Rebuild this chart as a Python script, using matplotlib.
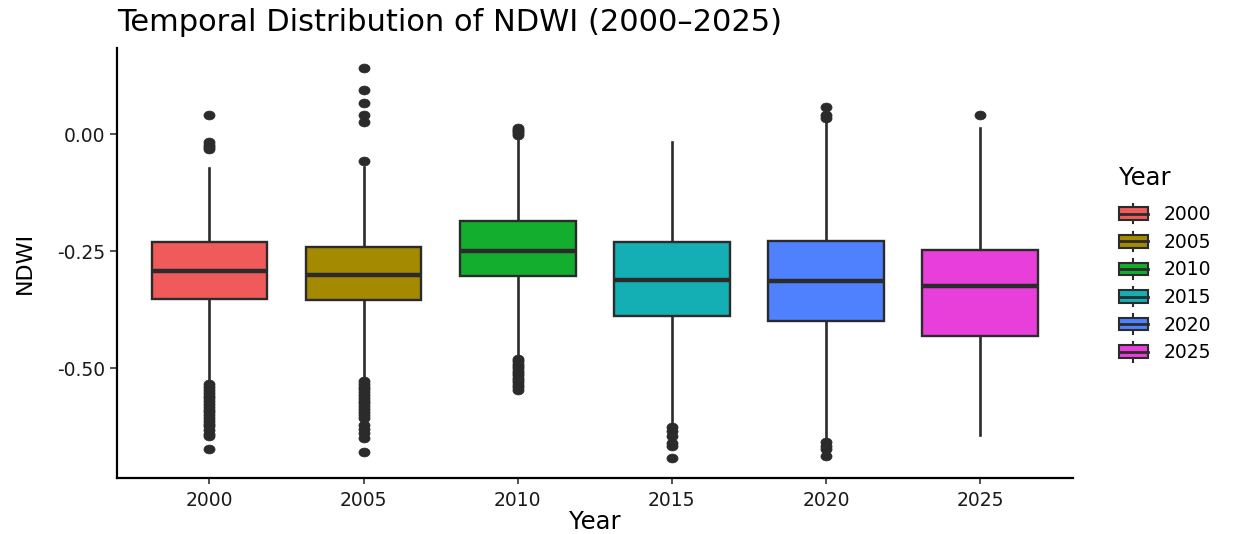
import matplotlib
matplotlib.use("Agg")
import matplotlib.pyplot as plt
from matplotlib.legend_handler import HandlerBase
from matplotlib.patches import Rectangle, Patch
from matplotlib.lines import Line2D
from matplotlib.path import Path

plt.rcParams['font.family'] = ['DejaVu Sans']

years = ["2000", "2005", "2010", "2015", "2020", "2025"]
colors = ["#F05A5A", "#A38A00", "#13AE2D", "#14AFB4", "#4F81FF", "#E83FDB"]

q1 = [-0.352, -0.355, -0.302, -0.388, -0.399, -0.430]
med = [-0.293, -0.301, -0.249, -0.312, -0.313, -0.325]
q3 = [-0.230, -0.240, -0.185, -0.231, -0.227, -0.248]
whis_lo = [-0.531, -0.525, -0.477, -0.623, -0.655, -0.642]
whis_hi = [-0.0725, -0.069, -0.0085, -0.0156, 0.0305, 0.014]

outliers = [
    [0.040, -0.017, -0.022, -0.027, -0.031,
     -0.534, -0.540, -0.546, -0.552, -0.558, -0.564, -0.570, -0.576, -0.582,
     -0.588, -0.594, -0.600, -0.606, -0.612, -0.618, -0.624, -0.632, -0.640,
     -0.645, -0.673],
    [0.142, 0.094, 0.0675, 0.040, 0.027, -0.058,
     -0.527, -0.533, -0.539, -0.545, -0.551, -0.557, -0.563, -0.569, -0.575,
     -0.581, -0.587, -0.593, -0.600, -0.605, -0.620, -0.630, -0.637, -0.648,
     -0.678],
    [0.013, 0.010, 0.006, 0.002, -0.001,
     -0.480, -0.485, -0.490, -0.495, -0.500, -0.505, -0.510, -0.515, -0.520,
     -0.525, -0.530, -0.535, -0.540, -0.546],
    [-0.626, -0.634, -0.644, -0.660, -0.666, -0.692],
    [0.058, 0.040, 0.035, -0.658, -0.666, -0.673, -0.687],
    [0.042],
]

edge = "#2b2b2b"

# slightly wide elliptical dot, like the reference's outlier points
_circ = Path.unit_circle()
ellipse_marker = Path(_circ.vertices * [1.0, 0.8], _circ.codes)

fig = plt.figure(figsize=(12.33, 5.34), dpi=100)
ax = fig.add_axes([0.0949, 0.105, 0.775, 0.805])

stats = []
for i, y in enumerate(years):
    stats.append(dict(label=y, q1=q1[i], med=med[i], q3=q3[i],
                      whislo=whis_lo[i], whishi=whis_hi[i], fliers=outliers[i]))

positions = list(range(1, len(years) + 1))
bp = ax.bxp(stats, positions=positions, widths=0.75, patch_artist=True,
            showcaps=False,
            boxprops=dict(edgecolor=edge, linewidth=1.7),
            whiskerprops=dict(color=edge, linewidth=1.9),
            medianprops=dict(color=edge, linewidth=3.2, solid_capstyle='butt'),
            flierprops=dict(marker=ellipse_marker, markerfacecolor=edge,
                            markeredgecolor=edge, markeredgewidth=0.5,
                            markersize=8.0, linestyle='none'))
for patch, c in zip(bp['boxes'], colors):
    patch.set_facecolor(c)
for w in bp['whiskers']:
    w.set_zorder(1)

ax.set_xlim(0.4, len(years) + 0.6)
ax.set_ylim(-0.734, 0.184)
ax.set_yticks([0.0, -0.25, -0.50])
ax.set_yticklabels(["0.00", "-0.25", "-0.50"])
ax.set_xticks(positions)
ax.set_xticklabels(years)
for s in ['top', 'right']:
    ax.spines[s].set_visible(False)
for s in ['left', 'bottom']:
    ax.spines[s].set_linewidth(1.6)
    ax.spines[s].set_color('black')
ax.tick_params(axis='both', direction='out', width=1.2, color='#333333',
               labelsize=13.5, labelcolor='#1a1a1a')
ax.tick_params(axis='x', length=4, pad=5.3)
ax.tick_params(axis='y', length=5, pad=3.5)
ax.set_xlabel("Year", fontsize=17.5, labelpad=0)
ax.set_ylabel("NDWI", fontsize=16, va='center')
ax.yaxis.set_label_coords(-0.096, 0.5)
ax.set_title("Temporal Distribution of NDWI (2000\u20132025)", fontsize=22,
             loc='left', x=0.0, pad=12)


class BoxKeyHandler(HandlerBase):
    def create_artists(self, legend, orig_handle, xdescent, ydescent, width,
                       height, fontsize, trans):
        cx = -xdescent + width / 2
        cy = -ydescent + height / 2
        bw = width
        bh = height * 0.75
        y0 = cy - bh / 2
        rect = Rectangle((cx - bw / 2, y0), bw, bh,
                         facecolor=orig_handle.get_facecolor(),
                         edgecolor=edge, linewidth=1.5, transform=trans)
        mline = Line2D([cx - bw / 2, cx + bw / 2], [cy, cy],
                       color=edge, linewidth=2.0, transform=trans)
        wt = Line2D([cx, cx], [y0 + bh, cy + height * 0.58], color=edge,
                    linewidth=1.5, transform=trans)
        wb = Line2D([cx, cx], [y0, cy - height * 0.58], color=edge,
                    linewidth=1.5, transform=trans)
        return [wt, wb, rect, mline]


handles = [Patch(facecolor=c, edgecolor=edge, label=y) for y, c in zip(years, colors)]
leg = fig.legend(handles=handles, labels=years, title="Year",
                 handler_map={Patch: BoxKeyHandler()},
                 loc='upper left', bbox_to_anchor=(0.9075, 0.6895),
                 frameon=False, fontsize=13.5, title_fontsize=17.5,
                 handlelength=1.55, handleheight=1.0, labelspacing=0.46,
                 handletextpad=0.85, borderaxespad=0, borderpad=0)
leg._legend_box.align = "left"
leg._legend_box.sep = 11

fig.savefig("out.png", dpi=100, facecolor='white')
